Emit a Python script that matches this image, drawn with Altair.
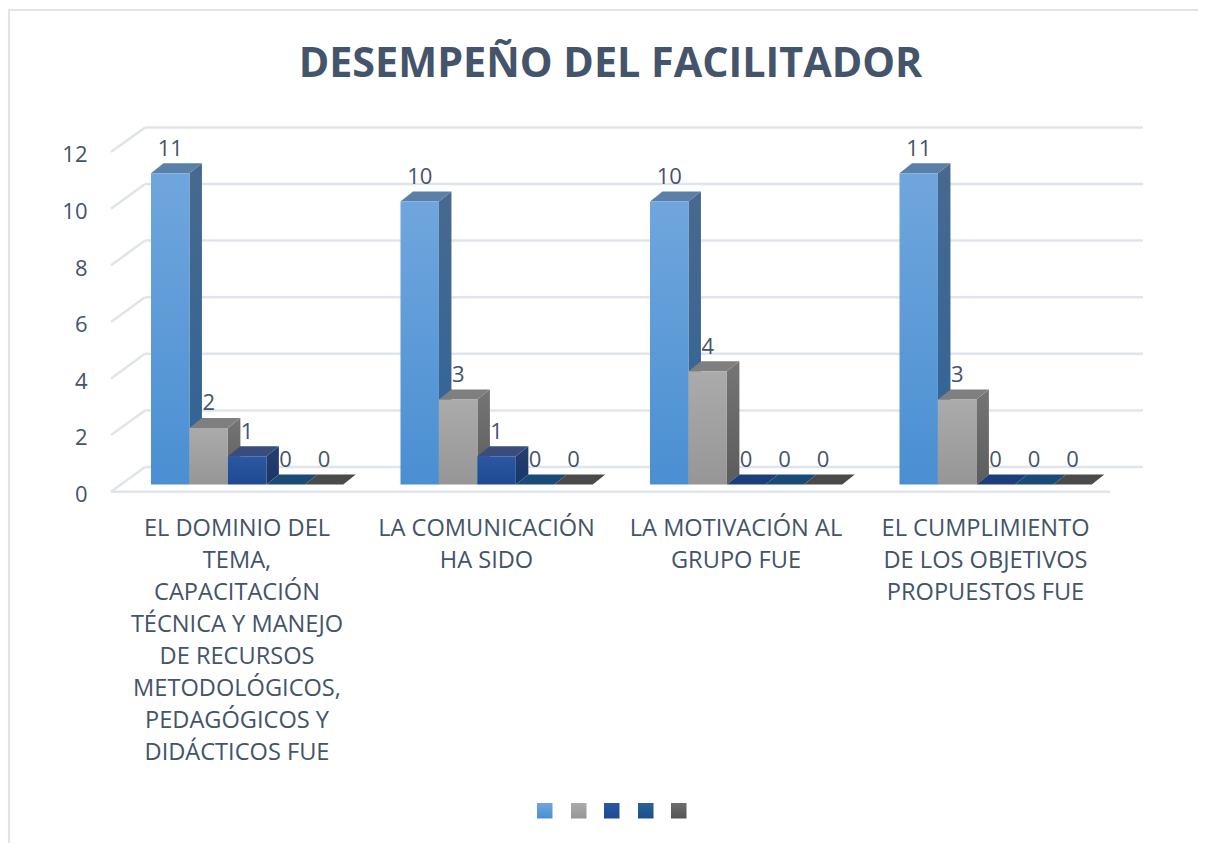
import altair as alt
import pandas as pd

TITLE = "DESEMPEÑO DEL FACILITADOR"
CATEGORIES = [
    "EL DOMINIO DEL\nTEMA,\nCAPACITACIÓN\nTÉCNICA Y MANEJO\nDE RECURSOS\nMETODOLÓGICOS,\nPEDAGÓGICOS Y\nDIDÁCTICOS FUE",
    "LA COMUNICACIÓN\nHA SIDO",
    "LA MOTIVACIÓN AL\nGRUPO FUE",
    "EL CUMPLIMIENTO\nDE LOS OBJETIVOS\nPROPUESTOS FUE",
]
SERIES_1 = [11, 10, 10, 11]
SERIES_2 = [2, 3, 4, 3]
SERIES_3 = [1, 1, 0, 0]
SERIES_4 = [0, 0, 0, 0]
SERIES_5 = [0, 0, 0, 0]
SERIES = [SERIES_1, SERIES_2, SERIES_3, SERIES_4, SERIES_5]
Y_TICKS = [0, 2, 4, 6, 8, 10, 12]

# front gradient (top, bottom), side gradient (top, bottom), top-face colour, flat zero-bar colour
STYLES = [
    ("#70a6dd", "#4a8fd2", "#48698f", "#2f6497", "#5a7fa8", "#5a7fa8"),
    ("#ababab", "#969696", "#757575", "#5c5c5c", "#7f7f7f", "#7f7f7f"),
    ("#2c58a3", "#1d4a91", "#243f73", "#1a3566", "#3a4c7b", "#1c3f7b"),
    ("#2a6299", "#175187", "#1a4a78", "#174470", "#1a4a78", "#1a4a78"),
    ("#6e6e6e", "#555555", "#4a4a4a", "#444444", "#4a4a4a", "#4a4a4a"),
]
TEXT = "#44546a"
GRID = "#e0e4ec"
FONT = "Open Sans"

W, H = 1190, 835
UNIT_X = 249.5          # px per category
UNIT_Y = 28.3           # px per value unit
ORIGIN_X = 143.0        # px of first bar in the plot area
ORIGIN_Y = 476.5        # px of value 0 in the plot area
BAR = 38.45 / UNIT_X
DX = 12.5 / UNIT_X
DV = 10.0 / UNIT_Y
WALL_FRONT_X, WALL_BACK_X = (111 - 8 - ORIGIN_X) / UNIT_X, (145 - 8 - ORIGIN_X) / UNIT_X
FLOOR_FRONT_END, GRID_END = (1110 - 8 - ORIGIN_X) / UNIT_X, (1143 - 8 - ORIGIN_X) / UNIT_X
WALL_FRONT_V, WALL_BACK_V = -7.2 / UNIT_Y, 17.5 / UNIT_Y

x_scale = alt.Scale(domain=[-ORIGIN_X / UNIT_X, (W - ORIGIN_X) / UNIT_X], nice=False, zero=False)
y_scale = alt.Scale(domain=[-(H - ORIGIN_Y) / UNIT_Y, ORIGIN_Y / UNIT_Y], nice=False, zero=False)
X = lambda f="x": alt.X(f"{f}:Q", scale=x_scale, axis=None)
Y = lambda f="y": alt.Y(f"{f}:Q", scale=y_scale, axis=None, stack=None)


def grad(top, bottom):
    return alt.LinearGradient(
        gradient="linear", x1=0, x2=0, y1=0, y2=1,
        stops=[alt.GradientStop(color=top, offset=0), alt.GradientStop(color=bottom, offset=1)],
    )


layers = []

# value axis and back-wall gridlines
axis_df = pd.DataFrame({"t": Y_TICKS})
layers.append(
    alt.Chart(axis_df).mark_point(opacity=0).encode(
        y=alt.Y("t:Q", scale=y_scale, axis=alt.Axis(
            values=Y_TICKS, title=None, grid=False, ticks=False, domain=False,
            labelFont=FONT, labelFontSize=22, labelColor=TEXT, labelOffset=10,
            labelPadding=2, offset=-81, labelOverlap=False, labelBound=False, labelFlush=False)),
        x=alt.X("t:Q", scale=x_scale, axis=None),
    )
)

grid_df = pd.DataFrame({"y": [t + WALL_BACK_V for t in Y_TICKS], "x": WALL_BACK_X, "x2": GRID_END})
layers.append(alt.Chart(grid_df).mark_rule(color=GRID, strokeWidth=2.5).encode(x=X(), x2="x2:Q", y=Y()))

slant = []
for t in Y_TICKS:
    slant += [{"t": t, "x": WALL_FRONT_X, "y": t + WALL_FRONT_V}, {"t": t, "x": WALL_BACK_X, "y": t + WALL_BACK_V}]
layers.append(alt.Chart(pd.DataFrame(slant)).mark_line(color=GRID, strokeWidth=2.5).encode(x=X(), y=Y(), detail="t:N"))

floor_df = pd.DataFrame({"y": [WALL_FRONT_V], "x": [WALL_FRONT_X], "x2": [FLOOR_FRONT_END]})
layers.append(alt.Chart(floor_df).mark_rule(color=GRID, strokeWidth=2.5).encode(x=X(), x2="x2:Q", y=Y()))

# chart frame
frame_top = pd.DataFrame({"x": [-ORIGIN_X / UNIT_X], "x2": [(W - ORIGIN_X) / UNIT_X], "y": [(ORIGIN_Y - 2) / UNIT_Y]})
layers.append(alt.Chart(frame_top).mark_rule(color=GRID, strokeWidth=2).encode(x=X(), x2="x2:Q", y=Y()))
frame_left = pd.DataFrame({"x": [(1 - ORIGIN_X) / UNIT_X], "y": [(ORIGIN_Y - 2) / UNIT_Y], "y2": [-(H - ORIGIN_Y) / UNIT_Y]})
layers.append(alt.Chart(frame_left).mark_rule(color=GRID, strokeWidth=2).encode(x=X(), y=Y(), y2="y2:Q"))

# pseudo-3D bars, drawn left to right so each front covers its neighbour's side
for s, values in enumerate(SERIES):
    front_top, front_bot, side_top, side_bot, top_col, zero_col = STYLES[s]
    fronts, sides, tops = [], [], []
    for c, v in enumerate(values):
        x0 = c + s * BAR
        x1 = x0 + BAR
        if v > 0:
            fronts.append({"x": x0, "x2": x1, "y": v, "y2": 0})
            sides += [
                {"b": c, "x": x1, "y": v, "y2": 0},
                {"b": c, "x": x1 + DX, "y": v + DV, "y2": DV},
            ]
        face = top_col if v > 0 else zero_col
        tops += [
            {"b": c, "f": face, "x": x0, "y": v, "y2": v},
            {"b": c, "f": face, "x": x0 + DX, "y": v + DV, "y2": v},
            {"b": c, "f": face, "x": x1, "y": v + DV, "y2": v},
            {"b": c, "f": face, "x": x1 + DX, "y": v + DV, "y2": v + DV},
        ]
    if sides:
        layers.append(
            alt.Chart(pd.DataFrame(sides)).mark_area(color=grad(side_top, side_bot), interpolate="linear", orient="vertical")
            .encode(x=X(), y=Y(), y2="y2:Q", detail="b:N")
        )
    layers.append(
        alt.Chart(pd.DataFrame(tops)).mark_area(interpolate="linear", orient="vertical")
        .encode(x=X(), y=Y(), y2="y2:Q", detail="b:N", fill=alt.Fill("f:N", scale=None))
    )
    if fronts:
        layers.append(
            alt.Chart(pd.DataFrame(fronts)).mark_rect(color=grad(front_top, front_bot))
            .encode(x=X(), x2="x2:Q", y=Y(), y2="y2:Q")
        )

# value labels
labels = [
    {"x": c + (s + 0.5) * BAR, "y": v, "t": str(v)}
    for s, values in enumerate(SERIES)
    for c, v in enumerate(values)
]
layers.append(
    alt.Chart(pd.DataFrame(labels)).mark_text(font=FONT, fontSize=22, color=TEXT, baseline="middle", dy=-24.5)
    .encode(x=X(), y=Y(), text="t:N")
)

# category labels
cats = pd.DataFrame({
    "x": [c + (237 - 8 - ORIGIN_X) / UNIT_X for c in range(len(CATEGORIES))],
    "y": [(ORIGIN_Y - (516.5 - 8)) / UNIT_Y] * len(CATEGORIES),
    "t": CATEGORIES,
})
layers.append(
    alt.Chart(cats).mark_text(font=FONT, fontSize=23.6, color=TEXT, baseline="top", align="center", lineBreak="\n", lineHeight=32)
    .encode(x=X(), y=Y(), text="t:N")
)

# title
title_df = pd.DataFrame({"x": [(610.5 - 8 - ORIGIN_X) / UNIT_X], "y": [(ORIGIN_Y - (65 - 8)) / UNIT_Y], "t": [TITLE]})
layers.append(
    alt.Chart(title_df).mark_text(font=FONT, fontSize=41.3, fontWeight="bold", color=TEXT, baseline="middle")
    .encode(x=X(), y=Y(), text="t:N")
)

# legend keys (the reference shows no legend text)
KEY_LEFT = [537, 571, 604, 638, 671]
for s, left in enumerate(KEY_LEFT):
    key = pd.DataFrame({
        "x": [(left - 8 - ORIGIN_X) / UNIT_X], "x2": [(left + 15.5 - 8 - ORIGIN_X) / UNIT_X],
        "y": [(ORIGIN_Y - (803 - 8)) / UNIT_Y], "y2": [(ORIGIN_Y - (818.5 - 8)) / UNIT_Y],
    })
    layers.append(
        alt.Chart(key).mark_rect(color=grad(STYLES[s][0], STYLES[s][1]))
        .encode(x=X(), x2="x2:Q", y=Y(), y2="y2:Q")
    )

chart = (
    alt.layer(*layers)
    .resolve_axis(y="independent")
    .properties(width=W, height=H, padding=0, autosize=alt.AutoSizeParams(type="none"), background="white")
    .configure_view(stroke=None)
)
chart.save("out.html", embed_options={"renderer": "svg", "actions": False})
